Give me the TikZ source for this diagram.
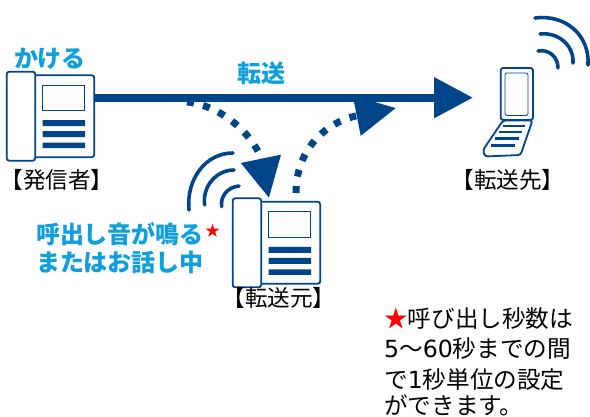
\documentclass[tikz,border=0pt]{standalone}
\usepackage{fontspec}
\usetikzlibrary{arrows.meta}
\setmainfont{Noto Sans CJK JP}
\newfontfamily\latinf{DejaVu Sans}
\definecolor{navy}{HTML}{004489}
\definecolor{sky}{HTML}{0F9FDC}
\tikzset{
  x=1pt,y=-1pt,
  lbl/.style={inner sep=0pt,font=\fontsize{22.6}{22.6}\selectfont,text=black},
  cyanlbl/.style={inner sep=0pt,font=\fontsize{24}{24}\selectfont\bfseries,text=sky},
  note/.style={inner sep=0pt,anchor=west,font=\fontsize{23.6}{23.6}\selectfont,text=black},
  outline/.style={draw=navy,line width=1.8pt,fill=white,rounded corners=2.5pt},
  wave/.style={draw=navy,line width=3.6pt,line cap=round},
  trunk/.style={draw=navy,line width=8pt,-{Triangle[length=39pt,width=39pt,fill=navy]}},
  dotted curve/.style={draw=navy,line width=7pt,dash pattern=on 7pt off 9.5pt,-{Triangle[length=40pt,width=39pt,fill=navy]}},
  phone/.pic={
    \draw[outline] (20,3.5) rectangle (87.5,85.5);
    \draw[draw=navy,line width=1.2pt] (35.7,13.5) rectangle (78,39);
    \fill[navy] (36,48.5) rectangle (78.5,54.5) (36,59.5) rectangle (78.5,65.5) (36,71) rectangle (78.5,76.5);
    \draw[outline] (0,0) rectangle (28.5,89);
  }
}
\begin{document}
\begin{tikzpicture}
\useasboundingbox (0,0) rectangle (590,417);
% telephones
\pic at (6.7,71.7) {phone};
\pic at (232.7,198.3) {phone};
% mobile
\draw[outline] (500.7,68) rectangle (533,120);
\draw[draw=navy,line width=0.8pt,rounded corners=2pt] (505,73) rectangle (528,115.5);
\draw[outline,line join=round] (503,120.5) -- (532.5,120.5) -- (520.5,155) -- (485,156.5) -- (483,150) -- cycle;
\draw[navy,line width=2.8pt]
  (503,126) -- (525,126) (498.5,132) -- (522,132) (495,138.5) -- (518.5,138.5) (491,145.5) -- (515,145.5);
% named connector ends
\coordinate (callerport) at (94,97.7);
\coordinate (mobileport) at (473,97.7);
\coordinate (midin) at (187,102);
\coordinate (forwarderin) at (269,198);
\coordinate (forwarderout) at (296,193);
\coordinate (midout) at (396,108);
% connectors
\draw[trunk] (callerport) -- (mobileport);
\draw[dotted curve] (midin) .. controls (225,106) and (257,140) .. (forwarderin);
\draw[dotted curve] (forwarderout) .. controls (296,150) and (325,122) .. (midout);
% waves
\draw[wave] (189,210) .. controls (186,180) and (205,153) .. (233,153);
\draw[wave] (204.7,205) .. controls (202,187) and (216,170) .. (234,170);
\draw[wave] (221.7,206.7) .. controls (220,196) and (228,187) .. (239,186);
\draw[wave] (535,18) .. controls (565,14) and (590,35) .. (588,65);
\draw[wave] (540,34) .. controls (558,32) and (574,45) .. (573,63);
\draw[wave] (538,51) .. controls (549,49) and (558,57) .. (558,68);
% labels
\node[cyanlbl] (kakeru) at (50,59) {かける};
\node[cyanlbl] (tensou) at (261,73) {転送};
\node[lbl] (caller) at (57,180) {【発信者】};
\node[lbl] (dest) at (508,180) {【転送先】};
\node[lbl] (source) at (279,298) {【転送元】};
\node[cyanlbl] (ring) at (120,234) {呼出し音が鳴る};
\node[cyanlbl] (talk) at (120,262) {またはお話し中};
\node[inner sep=0pt,text=red,font=\fontsize{15}{15}\selectfont] (star) at (212.5,231) {★};
\node[note] (n1) at (384,319) {{\color{red}★}呼び出し秒数は};
\node[note] (n2) at (384,349) {{\latinf 5}～{\latinf 60}秒までの間};
\node[note] (n3) at (384,380) {で{\latinf 1}秒単位の設定};
\node[note] (n4) at (384,405) {ができます。};
\end{tikzpicture}
\end{document}
